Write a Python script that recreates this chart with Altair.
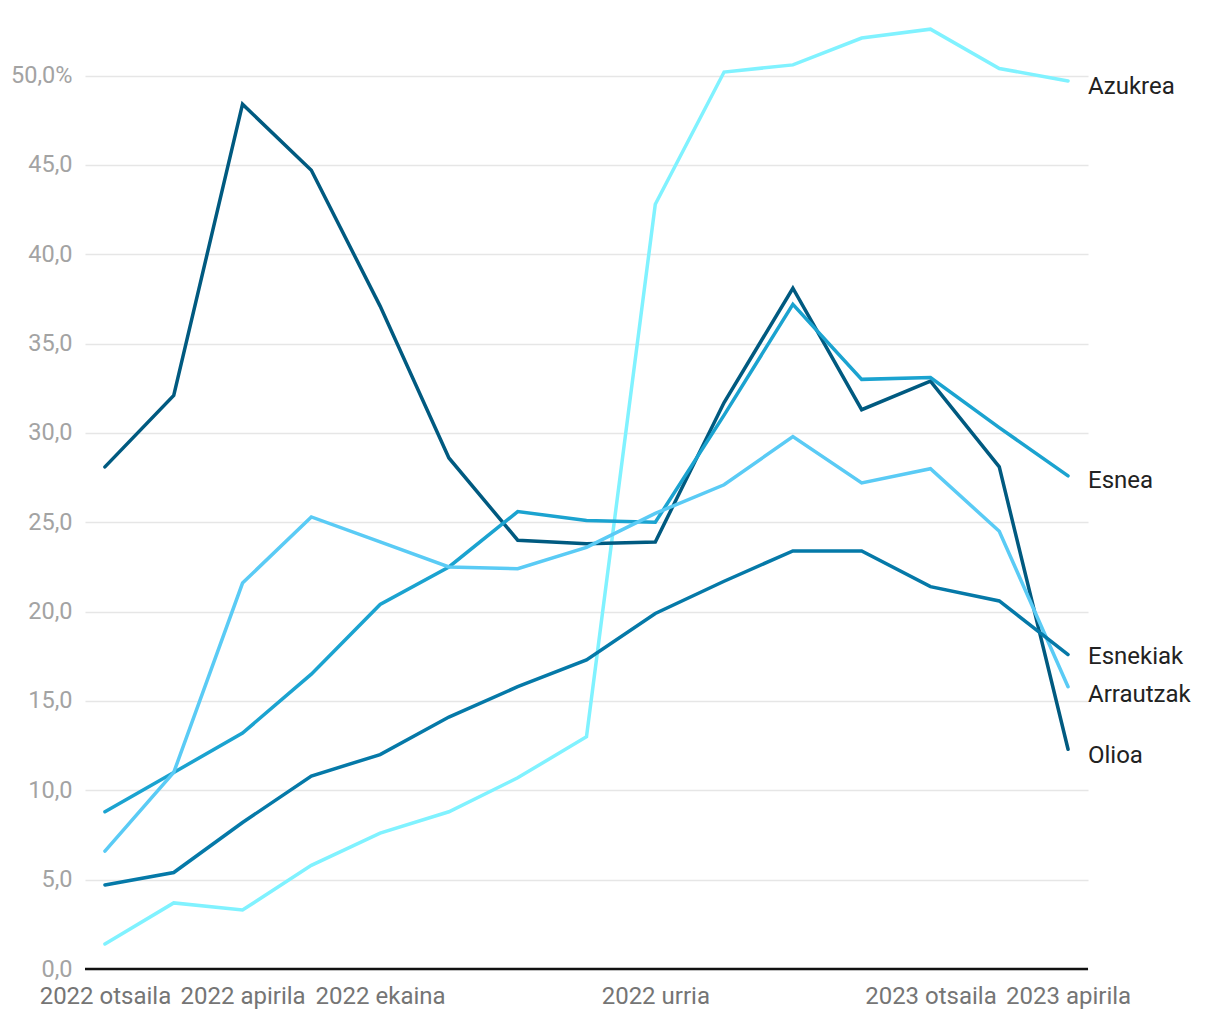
import altair as alt
import pandas as pd

months = ["2022 otsaila", "2022 martxoa", "2022 apirila", "2022 maiatza", "2022 ekaina",
          "2022 uztaila", "2022 abuztua", "2022 iraila", "2022 urria", "2022 azaroa",
          "2022 abendua", "2023 urtarrila", "2023 otsaila", "2023 martxoa", "2023 apirila"]
shown_months = ["2022 otsaila", "2022 apirila", "2022 ekaina", "2022 urria",
                "2023 otsaila", "2023 apirila"]

azukrea = [1.4, 3.7, 3.3, 5.8, 7.6, 8.8, 10.7, 13.0, 42.8, 50.2, 50.6, 52.1, 52.6, 50.4, 49.7]
olioa = [28.1, 32.1, 48.4, 44.7, 37.1, 28.6, 24.0, 23.8, 23.9, 31.7, 38.1, 31.3, 32.9, 28.1, 12.3]
esnea = [8.8, 11.0, 13.2, 16.5, 20.4, 22.5, 25.6, 25.1, 25.0, 31.0, 37.2, 33.0, 33.1, 30.3, 27.6]
arrautzak = [6.6, 11.0, 21.6, 25.3, 23.9, 22.5, 22.4, 23.6, 25.5, 27.1, 29.8, 27.2, 28.0, 24.5, 15.8]
esnekiak = [4.7, 5.4, 8.2, 10.8, 12.0, 14.1, 15.8, 17.3, 19.9, 21.7, 23.4, 23.4, 21.4, 20.6, 17.6]

series = {"Azukrea": azukrea, "Olioa": olioa, "Esnea": esnea,
          "Arrautzak": arrautzak, "Esnekiak": esnekiak}
colors = {"Azukrea": "#80f2ff", "Olioa": "#005a80", "Esnea": "#1ba3d0",
          "Arrautzak": "#5acbf5", "Esnekiak": "#0579a8"}
# pixel nudges (to the text baseline) for the end labels so they do not overlap
label_dy = {"Azukrea": 13.5, "Olioa": 13.5, "Esnea": 12.5, "Arrautzak": 15, "Esnekiak": 9.5}

rows = []
for name, vals in series.items():
    for m, v in zip(months, vals):
        rows.append({"month": m, "value": v, "series": name})
df = pd.DataFrame(rows)

W, H = 1003, 947
ydom = [0, 53]

x_enc = alt.X("month:O", sort=months, scale=alt.Scale(type="point", padding=0.29),
              axis=alt.Axis(values=shown_months, title=None, labelAngle=0, ticks=False,
                            domain=False, grid=False, labelFont="Roboto", labelFontSize=24,
                            labelColor="#757575", labelPadding=15))
y_enc = alt.Y("value:Q", scale=alt.Scale(domain=ydom, nice=False, zero=True),
              axis=alt.Axis(values=list(range(0, 51, 5)), title=None, ticks=False, domain=False,
                            grid=True, gridColor="#e6e6e6", gridWidth=1.5,
                            labelFont="Roboto", labelFontSize=23.5, labelColor="#a3a3a3",
                            labelPadding=13,
                            labelExpr="replace(format(datum.value, '.1f'), '.', ',') + (datum.value == 50 ? '%' : '')"))

lines = alt.Chart(df).mark_line(strokeWidth=3.5, strokeCap="round", strokeJoin="miter").encode(
    x=x_enc, y=y_enc,
    color=alt.Color("series:N", scale=alt.Scale(domain=list(colors.keys()), range=list(colors.values())), legend=None),
    detail="series:N",
)

baseline = alt.Chart(pd.DataFrame({"v": [0]})).mark_rule(color="#111111", strokeWidth=2.5).encode(
    y=alt.Y("v:Q", scale=alt.Scale(domain=ydom, nice=False)), x=alt.value(0), x2=alt.value(W))

texts = []
for name, vals in series.items():
    lab = pd.DataFrame([{"series": name, "value": vals[-1]}])
    texts.append(
        alt.Chart(lab).mark_text(align="left", baseline="alphabetic", font="Roboto", fontSize=24,
                                 color="#222222", dy=label_dy[name]).encode(
            x=alt.value(W),
            y=alt.Y("value:Q", scale=alt.Scale(domain=ydom, nice=False)),
            text="series:N",
        )
    )

chart = alt.layer(lines, baseline, *texts).properties(
    width=W, height=H,
    background="white",
    autosize=alt.AutoSizeParams(type="none"),
    padding={"left": 77, "top": 14, "right": 118, "bottom": 40},
).configure_view(strokeWidth=0, stroke="transparent")

chart.save("out.html", embed_options={"renderer": "svg", "actions": False})
